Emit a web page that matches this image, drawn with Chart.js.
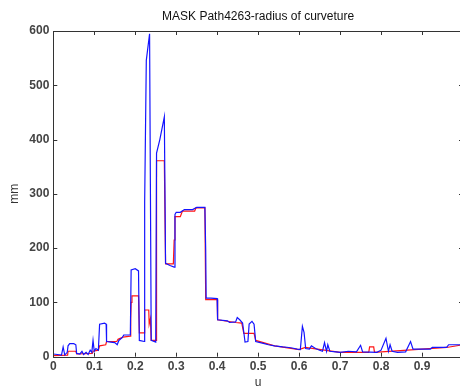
<!DOCTYPE html>
<html>
<head>
<meta charset="utf-8">
<script src="https://cdn.jsdelivr.net/npm/chart.js@4/dist/chart.umd.min.js"></script>
<style>
html, body { margin: 0; padding: 0; background: #fff; overflow: hidden; }
#wrap { width: 466px; height: 387px; }
</style>
</head>
<body>
<div id="wrap"><canvas id="curveChart" width="466" height="387"></canvas></div>
<script>
"use strict";

/* data: u position and radius (mm) */
var blueU = [0.000, 0.010, 0.020, 0.024, 0.028, 0.034, 0.036, 0.040, 0.050, 0.055, 0.057, 0.065, 0.070, 0.074, 0.080, 0.085,
    0.090, 0.094, 0.097, 0.100, 0.104, 0.110, 0.113, 0.125, 0.129, 0.130, 0.140, 0.150, 0.156, 0.160, 0.168, 0.172,
    0.188, 0.190, 0.200, 0.208, 0.210, 0.222, 0.223, 0.227, 0.235, 0.237, 0.239, 0.250, 0.252, 0.260, 0.271, 0.274,
    0.285, 0.295, 0.297, 0.300, 0.310, 0.320, 0.340, 0.350, 0.370, 0.372, 0.373, 0.385, 0.400, 0.401, 0.425, 0.430,
    0.445, 0.449, 0.455, 0.462, 0.465, 0.468, 0.475, 0.478, 0.485, 0.490, 0.494, 0.505, 0.515, 0.525, 0.540, 0.560,
    0.575, 0.583, 0.595, 0.603, 0.608, 0.612, 0.616, 0.625, 0.630, 0.640, 0.650, 0.657, 0.662, 0.667, 0.670, 0.675,
    0.690, 0.700, 0.720, 0.740, 0.750, 0.755, 0.790, 0.800, 0.812, 0.818, 0.822, 0.827, 0.840, 0.860, 0.872, 0.878,
    0.900, 0.920, 0.925, 0.960, 0.965, 1.000];
var blueR = [5, 4, 3, 18, 3, 8, 20, 24, 24, 22, 6, 5, 10, 4, 8, 4,
    12, 8, 30, 10, 15, 12, 60, 62, 60, 28, 27, 26, 22, 30, 35, 40,
    40, 160, 162, 158, 30, 28, 285, 546, 595, 313, 30, 27, 375, 400, 442, 172,
    168, 165, 262, 266, 266, 271, 271, 275, 275, 195, 108, 108, 107, 68, 66, 63,
    64, 72, 68, 62, 45, 27, 28, 60, 65, 60, 28, 26, 24, 22, 20, 18,
    17, 16, 14, 13, 56, 45, 15, 14, 20, 15, 12, 10, 26, 10, 22, 10,
    9, 8, 10, 9, 21, 9, 8, 12, 34, 10, 22, 10, 8, 9, 28, 14,
    14, 14, 17, 17, 22, 22];

var redU = [0.000, 0.035, 0.036, 0.055, 0.057, 0.095, 0.097, 0.110, 0.113, 0.128, 0.130, 0.155, 0.158, 0.170, 0.188, 0.189,
    0.190, 0.192, 0.208, 0.210, 0.222, 0.223, 0.233, 0.234, 0.237, 0.239, 0.251, 0.252, 0.271, 0.274, 0.293, 0.295,
    0.297, 0.310, 0.315, 0.345, 0.348, 0.370, 0.372, 0.400, 0.401, 0.445, 0.460, 0.465, 0.490, 0.494, 0.540, 0.600,
    0.615, 0.700, 0.770, 0.772, 0.782, 0.784, 0.900, 0.960, 1.000];
var redR = [2, 3, 10, 10, 5, 6, 10, 12, 20, 22, 28, 28, 32, 36, 38, 70,
    100, 112, 112, 44, 44, 86, 86, 60, 70, 30, 30, 361, 361, 171, 171, 215,
    258, 258, 268, 268, 274, 274, 105, 105, 68, 63, 62, 43, 43, 30, 20, 13,
    17, 8, 8, 18, 18, 8, 14, 17, 22];

var xTicks = [0, 0.1, 0.2, 0.3, 0.4, 0.5, 0.6, 0.7, 0.8, 0.9, 1];
var yTicks = [0, 100, 200, 300, 400, 500, 600];
var titleText = 'MASK Path4263-radius of curveture';

function toPoints(us, rs) {
    var pts = [];
    for (var i = 0; i < us.length; i++) {
        pts.push({x: us[i], y: rs[i]});
    }
    return pts;
}

/* matlab style box with inward ticks, title centred on the axes */
var axesBox = {
    id: 'axesBox',
    afterDatasetsDraw: function(chart) {
        var ctx = chart.ctx;
        var a = chart.chartArea;
        var xs = chart.scales.x;
        var ys = chart.scales.y;
        var len = 4;
        ctx.save();
        ctx.strokeStyle = '#333';
        ctx.lineWidth = 1;
        ctx.beginPath();
        ctx.rect(Math.round(a.left) + 0.5, Math.round(a.top) + 0.5,
            Math.round(a.right - a.left), Math.round(a.bottom - a.top));
        xTicks.forEach(function(v) {
            var px = Math.round(xs.getPixelForValue(v)) + 0.5;
            ctx.moveTo(px, a.bottom);
            ctx.lineTo(px, a.bottom - len);
            ctx.moveTo(px, a.top);
            ctx.lineTo(px, a.top + len);
        });
        yTicks.forEach(function(v) {
            var py = Math.round(ys.getPixelForValue(v)) + 0.5;
            ctx.moveTo(a.left, py);
            ctx.lineTo(a.left + len, py);
            ctx.moveTo(a.right, py);
            ctx.lineTo(a.right - len, py);
        });
        ctx.stroke();

        ctx.fillStyle = '#111';
        ctx.font = '12px "Liberation Sans", Arial, sans-serif';
        ctx.textAlign = 'center';
        ctx.textBaseline = 'middle';
        ctx.fillText(titleText, (a.left + a.right) / 2, 17);
        ctx.restore();
    }
};

var tickFont = {family: 'Liberation Sans, Arial, sans-serif', size: 12, weight: 'bold'};
var labelFont = {family: 'Liberation Sans, Arial, sans-serif', size: 12, weight: 'normal'};

var ctx = document.getElementById('curveChart').getContext('2d');
var curveChart = new Chart(ctx, {
    type: 'line',
    data: {
        datasets: [{
            label: 'blue',
            data: toPoints(blueU, blueR),
            borderColor: 'rgb(20, 20, 255)',
            borderWidth: 1.2,
            pointRadius: 0,
            tension: 0
        }, {
            label: 'red',
            data: toPoints(redU, redR),
            borderColor: 'rgb(255, 20, 20)',
            borderWidth: 1.2,
            pointRadius: 0,
            tension: 0
        }]
    },
    options: {
        responsive: false,
        animation: false,
        layout: {padding: {top: 31, right: 0, left: 0, bottom: 0}},
        plugins: {
            legend: {display: false},
            tooltip: {enabled: false},
            title: {display: false}
        },
        scales: {
            x: {
                type: 'linear',
                min: 0,
                max: 1,
                afterFit: function(s) { s.height = 30.3; },
                afterBuildTicks: function(s) {
                    s.ticks = xTicks.map(function(v) { return {value: v}; });
                },
                grid: {display: false, drawTicks: false},
                border: {display: false},
                ticks: {
                    color: '#444',
                    font: tickFont,
                    padding: 3,
                    maxRotation: 0,
                    callback: function(v) { return v === 1 ? '' : String(v); }
                },
                title: {
                    display: true,
                    text: 'u',
                    color: '#333',
                    font: labelFont,
                    padding: {top: 0, bottom: -3}
                }
            },
            y: {
                min: 0,
                max: 600,
                afterFit: function(s) { s.width = 53.3; },
                afterBuildTicks: function(s) {
                    s.ticks = yTicks.map(function(v) { return {value: v}; });
                },
                grid: {display: false, drawTicks: false},
                border: {display: false},
                ticks: {
                    color: '#444',
                    font: tickFont,
                    padding: 4
                },
                title: {
                    display: true,
                    text: 'mm',
                    color: '#333',
                    font: labelFont,
                    padding: {top: 7, bottom: 0}
                }
            }
        }
    },
    plugins: [axesBox]
});
</script>
</body>
</html>
